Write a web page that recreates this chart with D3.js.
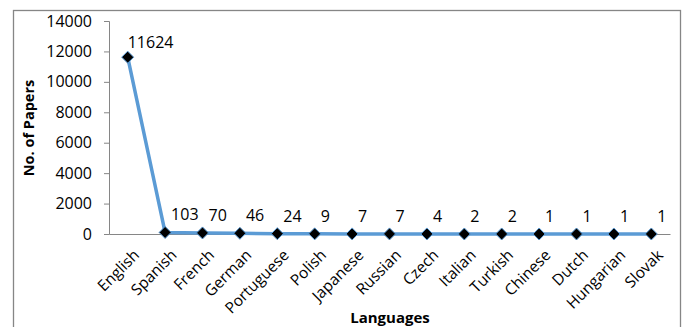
<!DOCTYPE html>
<html>
<head>
<meta charset="utf-8">
<script src="https://cdn.jsdelivr.net/npm/d3@7"></script>
<style>
  body { margin: 0; background: #fff; }
  text { font-family: "Open Sans", "Noto Sans", sans-serif; fill: #000; }
</style>
</head>
<body>
<div id="chart"></div>
<script>
// data
var languages = ["English", "Spanish", "French", "German", "Portuguese", "Polish", "Japanese",
  "Russian", "Czech", "Italian", "Turkish", "Chinese", "Dutch", "Hungarian", "Slovak"];
var papers = [11624, 103, 70, 46, 24, 9, 7, 7, 4, 2, 2, 1, 1, 1, 1];
var yTicks = [0, 2000, 4000, 6000, 8000, 10000, 12000, 14000];

var data = languages.map(function(d, i) { return {lang: d, n: papers[i]}; });

// set the dimensions and margins of the graph
var W = 683, H = 327;
var margin = {top: 21, right: 13, bottom: 93, left: 109},
    width = 670 - margin.left,
    height = 234 - margin.top;

var svg = d3.select("#chart")
  .append("svg")
    .attr("width", W)
    .attr("height", H);

// outer chart border
svg.append("rect")
  .attr("x", 13.5).attr("y", 10.5)
  .attr("width", 667).attr("height", 330)
  .attr("fill", "none")
  .attr("stroke", "#868686")
  .attr("stroke-width", 1.3);

var g = svg.append("g")
  .attr("transform", "translate(" + margin.left + "," + margin.top + ")");

// X scale
var x = d3.scalePoint()
  .domain(languages)
  .range([0, width])
  .padding(0.5);

// Y scale
var y = d3.scaleLinear()
  .domain([0, 14000])
  .range([height, 0]);

// Y axis
var yAxis = g.append("g")
  .call(d3.axisLeft(y).tickValues(yTicks).tickSize(5).tickPadding(12).tickFormat(d3.format("d")));
yAxis.selectAll("path, line").attr("stroke", "#868686");
yAxis.selectAll("text").style("font-size", "16px");

// X axis
var xAxis = g.append("g")
  .attr("transform", "translate(0," + height + ")")
  .call(d3.axisBottom(x).tickSize(0).tickSizeOuter(0));
xAxis.select("path").attr("stroke", "#868686");
xAxis.selectAll("text")
  .style("font-size", "15.5px")
  .attr("text-anchor", "end")
  .attr("dx", 0).attr("dy", 0)
  .attr("transform", "translate(10,20) rotate(-45)");

// line
var line = d3.line()
  .x(function(d) { return x(d.lang); })
  .y(function(d) { return y(d.n); });

g.append("path")
  .datum(data)
  .attr("d", line)
  .attr("fill", "none")
  .attr("stroke", "#5B9BD5")
  .attr("stroke-width", 3.5)
  .attr("stroke-linejoin", "round");

// diamond markers
g.selectAll(".marker")
  .data(data)
  .enter()
  .append("path")
  .attr("class", "marker")
  .attr("d", "M0,-6L6,0L0,6L-6,0Z")
  .attr("transform", function(d) { return "translate(" + x(d.lang) + "," + y(d.n) + ")"; })
  .attr("fill", "#000")
  .attr("stroke", "#5B9BD5")
  .attr("stroke-width", 1);

// data labels
g.selectAll(".lbl")
  .data(data)
  .enter()
  .append("text")
  .attr("class", "lbl")
  .attr("x", function(d, i) { return x(d.lang) + (i === 0 ? 0 : 6); })
  .attr("y", function(d, i) { return y(d.n) - (i === 0 ? 9 : 12); })
  .style("font-size", "16px")
  .text(function(d) { return d.n; });

// axis titles
svg.append("text")
  .attr("transform", "translate(34,128) rotate(-90)")
  .attr("text-anchor", "middle")
  .style("font-size", "14.5px")
  .style("font-weight", "bold")
  .text("No. of Papers");

svg.append("text")
  .attr("x", 390).attr("y", 323)
  .attr("text-anchor", "middle")
  .style("font-size", "15px")
  .style("font-weight", "bold")
  .text("Languages");
</script>
</body>
</html>
